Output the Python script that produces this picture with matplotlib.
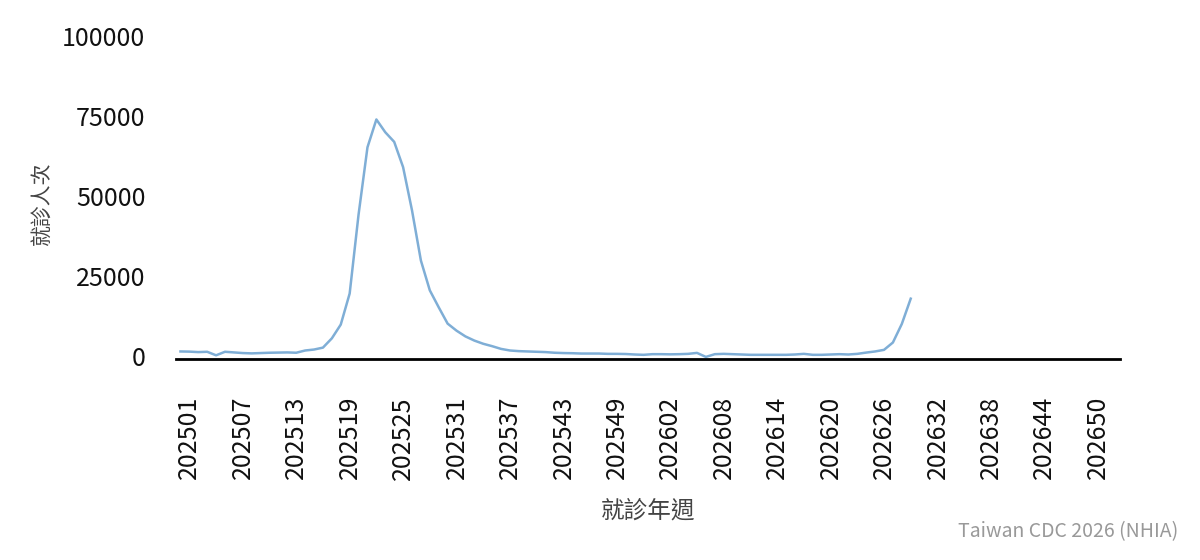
import matplotlib
matplotlib.use("Agg")
import matplotlib.pyplot as plt
import matplotlib.transforms as mtransforms

plt.rcParams['font.family'] = ['Noto Sans CJK TC', 'DejaVu Sans']

# 週別 (2025 有 53 週)
weeks = [f"2025{w:02d}" for w in range(1, 54)] + [f"2026{w:02d}" for w in range(1, 54)]

# 就診人次 (202501 ~ 202630)
visits = [
    2200, 2150, 2000, 2100, 1000, 2100, 1900, 1700, 1600, 1700,
    1800, 1850, 1900, 1800, 2500, 2800, 3400, 6300, 10600, 20300,
    45000, 66000, 74700, 70700, 67700, 59800, 46300, 30600, 21300, 16000,
    10900, 8700, 6900, 5600, 4600, 3850, 3000, 2500, 2300, 2200,
    2100, 2000, 1800, 1700, 1650, 1550, 1550, 1550, 1450, 1450,
    1400, 1250, 1150, 1350, 1350, 1300, 1350, 1450, 1750, 500,
    1350, 1450, 1350, 1250, 1150, 1150, 1150, 1150, 1150, 1250,
    1450, 1150, 1150, 1250, 1350, 1250, 1450, 1850, 2200, 2700,
    5000, 10800, 18700,
]

y_ticks = [0, 25000, 50000, 75000, 100000]

W, H = 1200, 560
fig = plt.figure(figsize=(W / 100, H / 100), dpi=100)
ax = fig.add_axes([176 / W, 1 - 358.5 / H, (1120 - 176) / W, 320 / H])

ax.plot(range(len(visits)), visits, color='#7FAED6', lw=1.8)

ax.set_xlim(-0.5, len(weeks) - 0.5)
ax.set_ylim(0, 100000)

tick_idx = list(range(0, len(weeks), 6))
ax.set_xticks(tick_idx)
ax.set_xticklabels([weeks[i] for i in tick_idx], rotation=90, fontsize=18, color='#111111')
ax.set_yticks(y_ticks)
ax.set_yticklabels([str(v) for v in y_ticks], fontsize=18, color='#111111')
ax.tick_params(axis='x', length=0, pad=27)
ax.tick_params(axis='y', length=0, pad=22)

# 標籤位置微調
shift_x = mtransforms.ScaledTranslation(9 / 100, 0, fig.dpi_scale_trans)
for lbl in ax.get_xticklabels():
    lbl.set_transform(lbl.get_transform() + shift_x)
shift_y = mtransforms.ScaledTranslation(0, 3 / 100, fig.dpi_scale_trans)
for lbl in ax.get_yticklabels():
    lbl.set_transform(lbl.get_transform() + shift_y)

for s in ['top', 'right', 'left']:
    ax.spines[s].set_visible(False)
ax.spines['bottom'].set_linewidth(2)
ax.spines['bottom'].set_color('black')

fig.text(648 / W, 1 - 511 / H, '就診年週', ha='center', va='center', fontsize=17, color='#444444')
fig.text(42 / W, 1 - 203 / H, '就診人次', ha='center', va='center', rotation=90, fontsize=15, color='#444444')
fig.text(1178 / W, 1 - 532 / H, 'Taiwan CDC 2026 (NHIA)', ha='right', va='center', fontsize=14, color='#999999')

fig.savefig('out.png', dpi=100)
